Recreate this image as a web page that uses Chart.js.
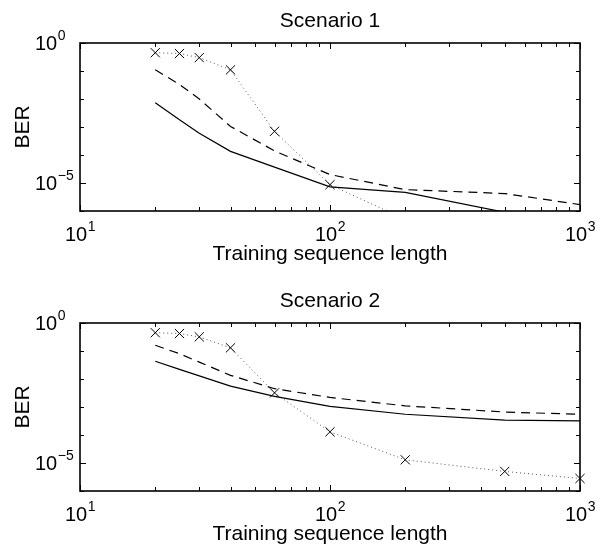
<!DOCTYPE html>
<html>
<head>
<meta charset="utf-8">
<script src="https://cdn.jsdelivr.net/npm/chart.js@4.4.1/dist/chart.umd.min.js"></script>
<style>
  body { margin: 0; background: #fff; }
  canvas { display: block; }
</style>
</head>
<body>
<canvas id="grafica1" width="605" height="280"></canvas>
<canvas id="grafica2" width="605" height="268"></canvas>
<script>
const longitudes = [20, 25, 30, 40, 60, 100, 200, 500, 1000];

// Escenario 1
const esc1Cruces = [0.45, 0.42, 0.30, 0.11, 7e-4, 8.7e-6, 5e-7, 1e-7, 5e-8];
const esc1Discontinua = [0.11, 0.033, 0.01, 1.05e-3, 1.4e-4, 2e-5, 5.8e-6, 4.2e-6, 1.7e-6];
const esc1Continua = [7.4e-3, 1.8e-3, 6e-4, 1.35e-4, 3.7e-5, 7.3e-6, 4.6e-6, 9e-7, 3e-7];

// Escenario 2
const esc2Cruces = [0.45, 0.42, 0.32, 0.13, 3.2e-3, 1.3e-4, 1.3e-5, 5e-6, 2.8e-6];
const esc2Discontinua = [0.16, 0.08, 0.04, 0.0135, 4.5e-3, 2.2e-3, 1.1e-3, 6.6e-4, 5.5e-4];
const esc2Continua = [0.043, 0.022, 0.013, 5.6e-3, 2.4e-3, 1.05e-3, 5.5e-4, 3.4e-4, 3.2e-4];

// Marcas y etiquetas de los ejes
const marcasX = [10, 20, 30, 40, 50, 60, 70, 80, 90, 100, 200, 300, 400, 500, 600, 700, 800, 900, 1000];
const marcasY = [1e-6, 1e-5, 1e-4, 1e-3, 1e-2, 1e-1, 1];
const etiquetasX = [[10, "1"], [100, "2"], [1000, "3"]];
const etiquetasY = [[1, "0"], [1e-5, "\u22125"]];
const tituloX = "Training sequence length";
const tituloY = "BER";

const fuente = '"Liberation Sans", Arial, sans-serif';

function esDecada(v) {
    const l = Math.log10(v);
    return Math.abs(l - Math.round(l)) < 1e-9;
}

// Dibuja "10" con su exponente
function dibujarPotencia(ctx, x, base, exp, centrado) {
    ctx.font = "20px " + fuente;
    const anchoBase = ctx.measureText("10").width;
    ctx.font = "14px " + fuente;
    const anchoExp = ctx.measureText(exp).width;
    let x0 = x;
    if (centrado) x0 = x - (anchoBase + anchoExp) / 2;
    ctx.font = "20px " + fuente;
    ctx.fillText("10", x0, base);
    ctx.font = "14px " + fuente;
    ctx.fillText(exp, x0 + anchoBase + 0.5, base - 10);
}

const ejesMatlab = {
    id: "ejesMatlab",
    afterDraw(chart, args, opciones) {
        const ctx = chart.ctx;
        const area = chart.chartArea;
        const sx = chart.scales.x;
        const sy = chart.scales.y;
        ctx.save();
        ctx.strokeStyle = "#000";
        ctx.fillStyle = "#000";
        ctx.setLineDash([]);
        const izq = Math.round(area.left);
        const der = Math.round(area.right);
        const arr = Math.round(area.top);
        const aba = Math.round(area.bottom);
        ctx.lineWidth = 1.6;
        ctx.strokeRect(izq, arr, der - izq, aba - arr);

        // marcas hacia dentro en los cuatro lados
        ctx.lineWidth = 1;
        ctx.beginPath();
        marcasX.forEach(v => {
            const px = Math.round(sx.getPixelForValue(v)) + 0.5;
            const largo = esDecada(v) ? 6 : 4;
            ctx.moveTo(px, aba); ctx.lineTo(px, aba - largo);
            ctx.moveTo(px, arr); ctx.lineTo(px, arr + largo);
        });
        const mayoresY = etiquetasY.map(e => e[0]);
        marcasY.forEach(v => {
            const py = Math.round(sy.getPixelForValue(v)) + 0.5;
            const largo = mayoresY.includes(v) ? 6 : 4;
            ctx.moveTo(izq, py); ctx.lineTo(izq + largo, py);
            ctx.moveTo(der, py); ctx.lineTo(der - largo, py);
        });
        ctx.stroke();

        // etiquetas
        ctx.textBaseline = "alphabetic";
        ctx.textAlign = "left";
        etiquetasX.forEach(e => {
            dibujarPotencia(ctx, sx.getPixelForValue(e[0]), area.bottom + 30, e[1], true);
        });
        etiquetasY.forEach(e => {
            dibujarPotencia(ctx, 35, sy.getPixelForValue(e[0]) + 7, e[1], false);
        });

        ctx.font = "21px " + fuente;
        ctx.textAlign = "center";
        const centroX = (area.left + area.right) / 2;
        ctx.fillText(tituloX, centroX, area.bottom + 49);
        ctx.fillText(opciones.titulo, centroX, 27);

        ctx.translate(29, (area.top + area.bottom) / 2);
        ctx.rotate(-Math.PI / 2);
        ctx.fillText(tituloY, 0, 0);
        ctx.restore();
    }
};

function puntos(serie) {
    return longitudes.map((x, i) => ({ x: x, y: serie[i] }));
}

function prepararConfiguracion(titulo, cruces, discontinua, continua, alto) {
    const config = {
        type: "line",
        data: {
            datasets: [
                {
                    data: puntos(continua),
                    borderColor: "#000",
                    borderWidth: 1.2,
                    pointRadius: 0
                },
                {
                    data: puntos(discontinua),
                    borderColor: "#000",
                    borderWidth: 1.2,
                    borderDash: [9, 6],
                    pointRadius: 0
                },
                {
                    data: puntos(cruces),
                    borderColor: "#555",
                    borderWidth: 1,
                    borderDash: [1, 3],
                    pointStyle: "crossRot",
                    pointRadius: 6.5,
                    pointBorderColor: "#000",
                    pointBorderWidth: 1,
                    pointBackgroundColor: "rgba(0,0,0,0)",
                    clip: { left: 1, top: 8, right: 8, bottom: 1 }
                }
            ]
        },
        options: {
            responsive: false,
            animation: false,
            devicePixelRatio: 1,
            layout: { padding: { left: 80, right: 25, top: 43, bottom: alto - 211 } },
            elements: { line: { tension: 0 } },
            plugins: {
                legend: { display: false },
                tooltip: { enabled: false },
                ejesMatlab: { titulo: titulo }
            },
            scales: {
                x: { type: "logarithmic", min: 10, max: 1000, display: false },
                y: { type: "logarithmic", min: 1e-6, max: 1, display: false }
            }
        },
        plugins: [ejesMatlab]
    };
    return config;
}

function renderGraficas() {
    new Chart(document.getElementById("grafica1"),
        prepararConfiguracion("Scenario 1", esc1Cruces, esc1Discontinua, esc1Continua, 280));
    new Chart(document.getElementById("grafica2"),
        prepararConfiguracion("Scenario 2", esc2Cruces, esc2Discontinua, esc2Continua, 268));
}

renderGraficas();
</script>
</body>
</html>
